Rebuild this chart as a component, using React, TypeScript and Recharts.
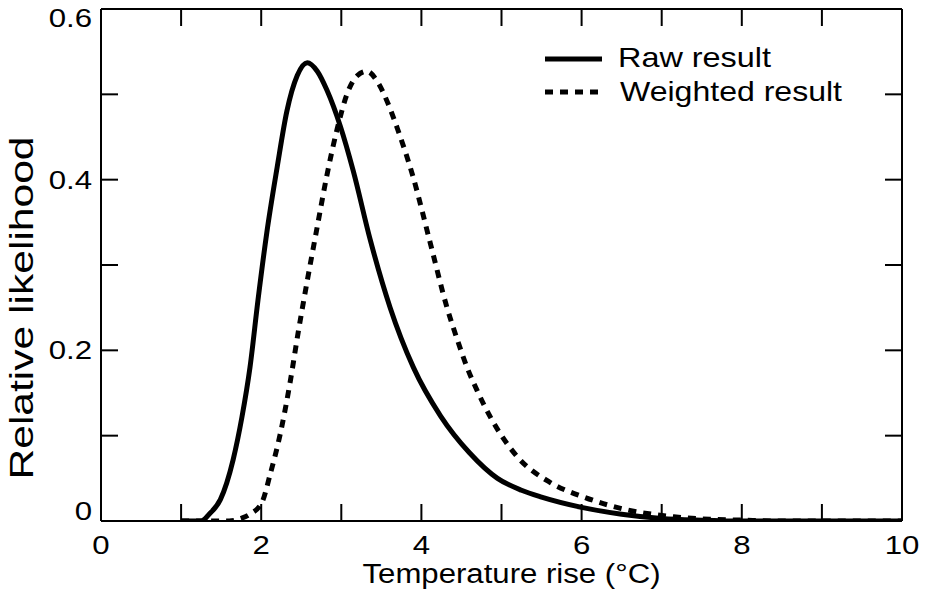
import { LineChart, Line, XAxis, YAxis, Legend } from 'recharts';

// temperature rise (°C) and relative likelihood
const rawX = [1.0, 1.25, 1.35, 1.49, 1.65, 1.76, 1.86, 1.96, 2.07, 2.2, 2.32, 2.45, 2.575, 2.7, 2.82, 2.99, 3.15, 3.36, 3.61, 3.9, 4.24, 4.6, 4.95, 5.25, 5.5, 6.0, 6.5, 7.0, 7.5, 8.0, 10];
const rawY = [0, 0, 0.008, 0.025, 0.072, 0.122, 0.18, 0.259, 0.338, 0.415, 0.48, 0.522, 0.537, 0.527, 0.505, 0.462, 0.41, 0.33, 0.25, 0.18, 0.123, 0.08, 0.05, 0.036, 0.028, 0.016, 0.008, 0.003, 0.001, 0, 0];

const weightedX = [1.0, 1.6, 1.75, 1.86, 2.01, 2.11, 2.24, 2.36, 2.46, 2.57, 2.7, 2.82, 2.95, 3.07, 3.2, 3.32, 3.45, 3.58, 3.7, 3.9, 4.11, 4.32, 4.45, 4.57, 4.7, 4.86, 5.2, 5.61, 6.03, 6.57, 7.15, 7.6, 8.0, 8.5, 10];
const weightedY = [0, 0, 0.003, 0.008, 0.022, 0.054, 0.103, 0.162, 0.22, 0.279, 0.345, 0.405, 0.46, 0.5, 0.522, 0.527, 0.515, 0.49, 0.46, 0.402, 0.326, 0.25, 0.212, 0.18, 0.152, 0.122, 0.075, 0.045, 0.028, 0.013, 0.005, 0.002, 0.001, 0, 0];

const xTicks = [0, 1, 2, 3, 4, 5, 6, 7, 8, 9, 10];
const yTicks = [0, 0.1, 0.2, 0.3, 0.4, 0.5, 0.6];

const rawData = rawX.map((x, i) => ({ x, y: rawY[i] }));
const weightedData = weightedX.map((x, i) => ({ x, y: weightedY[i] }));

const FONT = '"Liberation Sans", Arial, Helvetica, sans-serif';
const TICK_LEN = 17;

function BottomTick(props: any) {
  const { x, y, payload } = props;
  const v = payload.value;
  return (
    <g>
      <line x1={x} x2={x} y1={y} y2={y - TICK_LEN} stroke="#000" strokeWidth={2} />
      {v % 2 === 0 && (
        <text transform={`translate(${x},${y + 33}) scale(1.2,1)`} textAnchor="middle" fontSize={26} fill="#000" fontFamily={FONT}>
          {v}
        </text>
      )}
    </g>
  );
}

function TopTick(props: any) {
  const { x, y } = props;
  return <line x1={x} x2={x} y1={y} y2={y + TICK_LEN} stroke="#000" strokeWidth={2} />;
}

function LeftTick(props: any) {
  const { x, y, payload } = props;
  const v = payload.value;
  const step = Math.round(v * 10);
  // end labels are nudged inward like in the original
  let dy = 9;
  if (step === 0) dy = -1;
  if (step === 6) dy = 18;
  return (
    <g>
      <line x1={x} x2={x + TICK_LEN} y1={y} y2={y} stroke="#000" strokeWidth={2} />
      {step % 2 === 0 && (
        <text transform={`translate(${x - 9},${y + dy}) scale(1.2,1)`} textAnchor="end" fontSize={26} fill="#000" fontFamily={FONT}>
          {step === 0 ? '0' : (step / 10).toFixed(1)}
        </text>
      )}
    </g>
  );
}

function RightTick(props: any) {
  const { x, y } = props;
  return <line x1={x} x2={x - TICK_LEN} y1={y} y2={y} stroke="#000" strokeWidth={2} />;
}

function XTitle(props: any) {
  const { viewBox } = props;
  const cx = viewBox.x + viewBox.width / 2 + 10;
  return (
    <text x={cx} y={viewBox.y + 62} textAnchor="middle" fontSize={27} fill="#000" fontFamily={FONT} textLength={298} lengthAdjust="spacingAndGlyphs">
      Temperature rise (°C)
    </text>
  );
}

function YTitle(props: any) {
  const { viewBox } = props;
  const cy = viewBox.y + viewBox.height / 2 + 43;
  return (
    <text transform={`translate(33,${cy}) rotate(-90)`} textAnchor="middle" fontSize={34} fill="#000" fontFamily={FONT} textLength={343} lengthAdjust="spacingAndGlyphs">
      Relative likelihood
    </text>
  );
}

function LegendBox() {
  return (
    <svg width={330} height={80} style={{ display: 'block' }}>
      <line x1={5} x2={62} y1={19} y2={19} stroke="#000" strokeWidth={5} />
      <text x={78} y={27} fontSize={28} fill="#000" fontFamily={FONT} textLength={153} lengthAdjust="spacingAndGlyphs">
        Raw result
      </text>
      <line x1={5} x2={62} y1={52} y2={52} stroke="#000" strokeWidth={5} strokeDasharray="8 7" />
      <text x={80} y={61} fontSize={28} fill="#000" fontFamily={FONT} textLength={222} lengthAdjust="spacingAndGlyphs">
        Weighted result
      </text>
    </svg>
  );
}

export default function App() {
  return (
    <div style={{ position: 'absolute', left: 0, top: 0, width: 928, height: 598, background: '#fff' }}>
      <LineChart width={928} height={598} margin={{ top: 0, right: 0, bottom: 0, left: 0 }} style={{ fontFamily: FONT }}>
        <XAxis
          xAxisId="b"
          type="number"
          dataKey="x"
          domain={[0, 10]}
          ticks={xTicks}
          interval={0}
          allowDataOverflow
          height={77}
          tickSize={0}
          tickMargin={0}
          tickLine={false}
          tick={<BottomTick />}
          axisLine={{ stroke: '#000', strokeWidth: 2 }}
          label={<XTitle />}
        />
        <XAxis
          xAxisId="t"
          orientation="top"
          type="number"
          dataKey="x"
          domain={[0, 10]}
          ticks={xTicks}
          interval={0}
          allowDataOverflow
          height={9}
          tickSize={0}
          tickMargin={0}
          tickLine={false}
          tick={<TopTick />}
          axisLine={{ stroke: '#000', strokeWidth: 2 }}
        />
        <YAxis
          yAxisId="l"
          type="number"
          domain={[0, 0.6]}
          ticks={yTicks}
          interval={0}
          allowDataOverflow
          width={101}
          tickSize={0}
          tickMargin={0}
          tickLine={false}
          tick={<LeftTick />}
          axisLine={{ stroke: '#000', strokeWidth: 2 }}
          label={<YTitle />}
        />
        <YAxis
          yAxisId="r"
          orientation="right"
          type="number"
          domain={[0, 0.6]}
          ticks={yTicks}
          interval={0}
          allowDataOverflow
          width={26}
          tickSize={0}
          tickMargin={0}
          tickLine={false}
          tick={<RightTick />}
          axisLine={{ stroke: '#000', strokeWidth: 2 }}
        />
        <Legend
          layout="vertical"
          align="center"
          verticalAlign="middle"
          wrapperStyle={{ left: 540, top: 40, width: 330 }}
          content={() => <LegendBox />}
        />
        <Line
          xAxisId="b"
          yAxisId="l"
          data={rawData}
          dataKey="y"
          type="monotone"
          stroke="#000"
          strokeWidth={5}
          dot={false}
          activeDot={false}
          isAnimationActive={false}
          name="Raw result"
        />
        <Line
          xAxisId="b"
          yAxisId="l"
          data={weightedData}
          dataKey="y"
          type="monotone"
          stroke="#000"
          strokeWidth={5}
          strokeDasharray="8 7"
          dot={false}
          activeDot={false}
          isAnimationActive={false}
          name="Weighted result"
        />
      </LineChart>
    </div>
  );
}
